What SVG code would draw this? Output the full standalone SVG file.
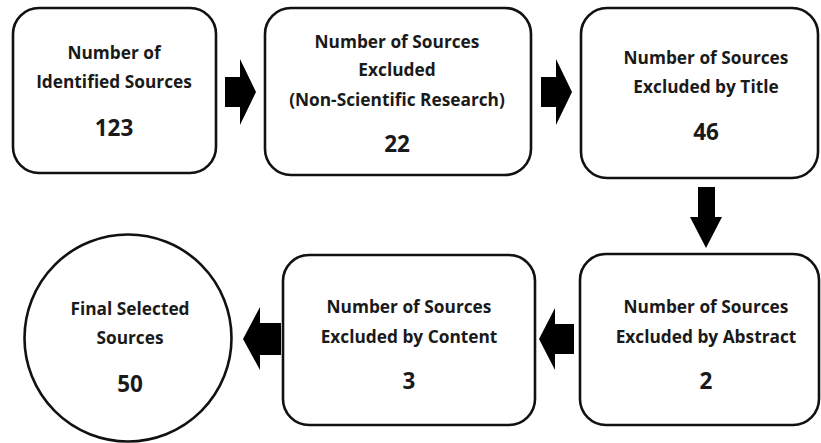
<svg xmlns="http://www.w3.org/2000/svg" width="821" height="443" viewBox="0 0 821 443">
<style>
.box{fill:#fff;stroke:#111;stroke-width:2.6}
.t{font-family:"Open Sans",Lato,"Liberation Sans",sans-serif;font-weight:700;font-size:17.3px;fill:#1a1a1a;text-anchor:middle}
.n{font-size:22.5px}
.arr{fill:#000}
</style>
<rect width="821" height="443" fill="#fff"/>
<g id="node-identified">
<rect class="box" x="13" y="8" width="203" height="165" rx="26"/>
<text class="t" x="114" y="59">Number of</text>
<text class="t" x="114" y="88">Identified Sources</text>
<text class="t n" x="114" y="136">123</text>
</g>
<g id="node-nonscientific">
<rect class="box" x="265" y="8" width="266" height="167" rx="26"/>
<text class="t" x="397" y="48">Number of Sources</text>
<text class="t" x="397" y="76">Excluded</text>
<text class="t" x="397" y="106">(Non-Scientific Research)</text>
<text class="t n" x="397" y="152">22</text>
</g>
<g id="node-title">
<rect class="box" x="581" y="8" width="237" height="170" rx="26"/>
<text class="t" x="706" y="64">Number of Sources</text>
<text class="t" x="706" y="93">Excluded by Title</text>
<text class="t n" x="706" y="140">46</text>
</g>
<g id="node-abstract">
<rect class="box" x="580" y="254" width="239" height="171" rx="26"/>
<text class="t" x="706" y="313">Number of Sources</text>
<text class="t" x="706" y="343">Excluded by Abstract</text>
<text class="t n" x="706" y="389">2</text>
</g>
<g id="node-content">
<rect class="box" x="283" y="255" width="252" height="170" rx="26"/>
<text class="t" x="409" y="313">Number of Sources</text>
<text class="t" x="409" y="343">Excluded by Content</text>
<text class="t n" x="409" y="389">3</text>
</g>
<g id="node-final">
<circle class="box" cx="128" cy="338" r="103.5"/>
<text class="t" x="130" y="315">Final Selected</text>
<text class="t" x="130" y="344">Sources</text>
<text class="t n" x="130" y="392">50</text>
</g>
<g id="connectors">
<polygon class="arr" points="225,77 240,77 240,59 256,92 240,125 240,107 225,107"/>
<polygon class="arr" points="541,77 556,77 556,59 572,92 556,125 556,107 541,107"/>
<polygon class="arr" points="698,187 715,187 715,217 722,217 706,248 690,217 698,217"/>
<polygon class="arr" points="574,324 555,324 555,308 539,339 555,370 555,354 574,354"/>
<polygon class="arr" points="281,323 260,323 260,307 243,339 260,370 260,355 281,355"/>
</g>
</svg>
